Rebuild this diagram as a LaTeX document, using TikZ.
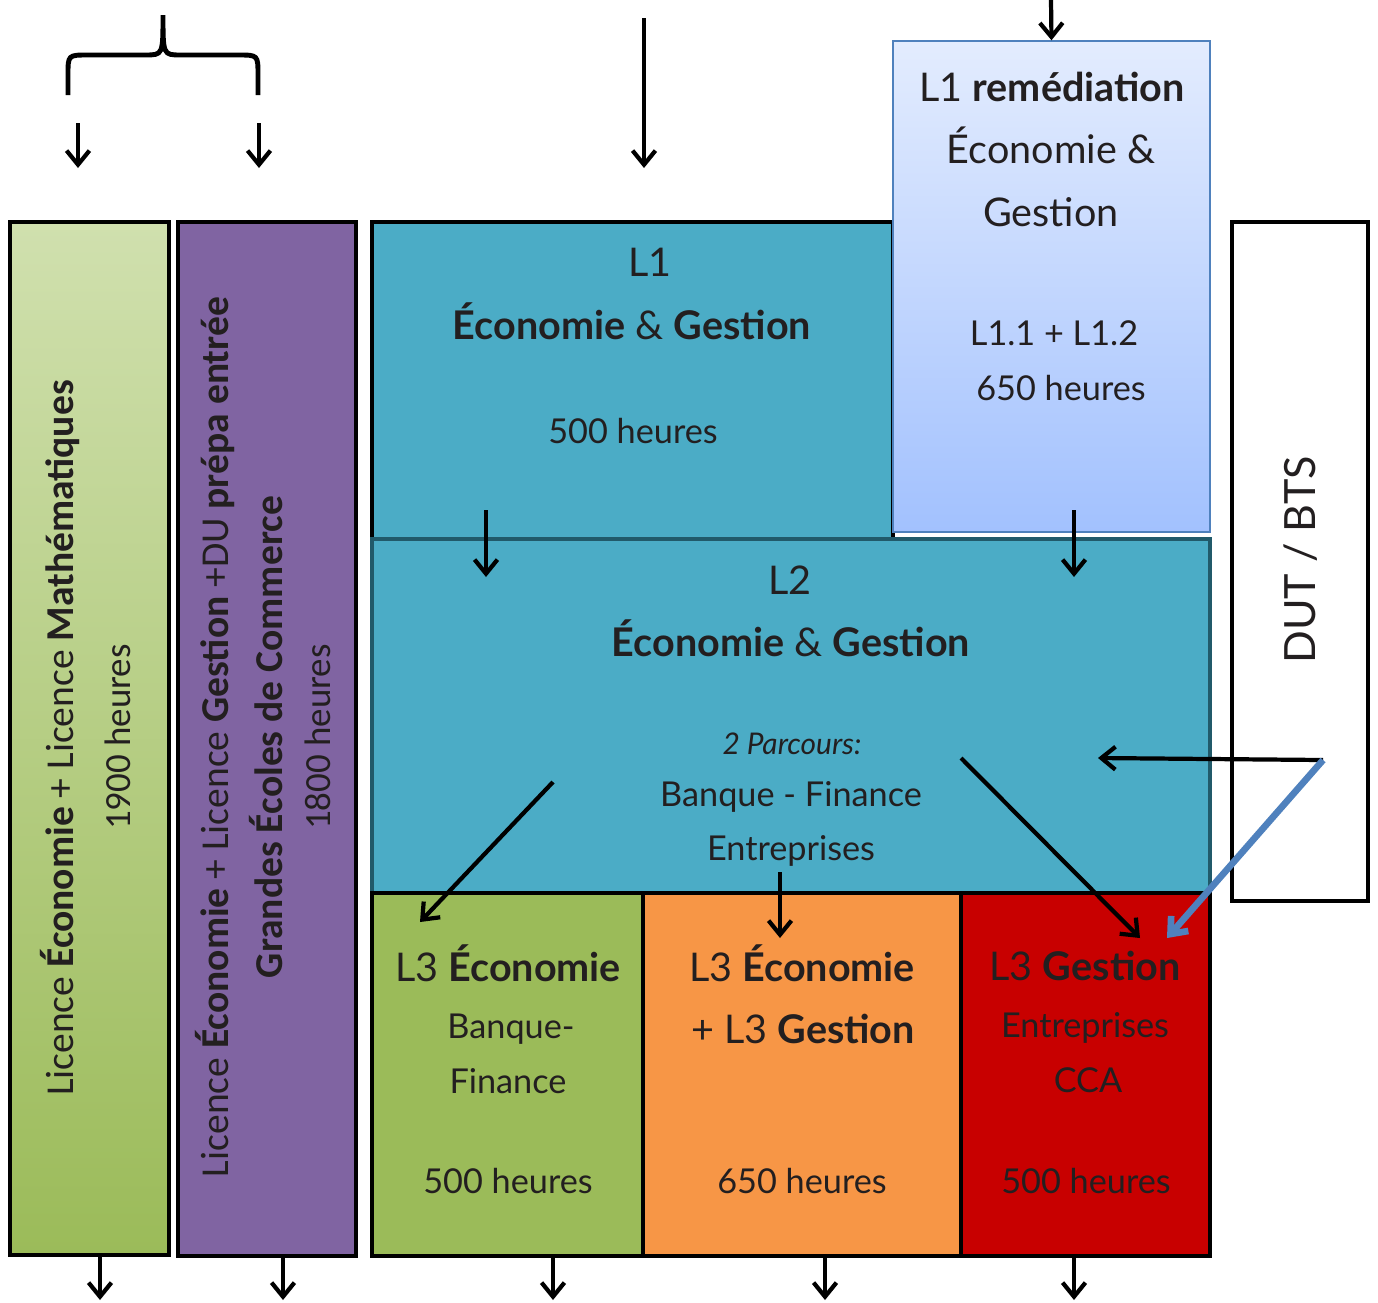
\documentclass[tikz,border=0pt]{standalone}
\usepackage{fontspec}
\setmainfont{Lato}
\newfontfamily\narrow{Carlito}
\usetikzlibrary{arrows.meta,fit}
\definecolor{ink}{HTML}{231F20}
\definecolor{greenlight}{HTML}{D0E0AE}
\definecolor{greendark}{HTML}{9BBB59}
\definecolor{violet}{HTML}{8064A2}
\definecolor{teal}{HTML}{4BACC6}
\definecolor{tealdark}{HTML}{215A6A}
\definecolor{bluelight}{HTML}{E3ECFE}
\definecolor{bluedark}{HTML}{A2C1FE}
\definecolor{blueline}{HTML}{4F81BD}
\definecolor{orange}{HTML}{F79646}
\definecolor{redbox}{HTML}{C80000}
\begin{document}
\begin{tikzpicture}[x=0.02cm,y=-0.02cm,
 box/.style={draw=black,line width=1.8pt,inner sep=0pt},
 arr/.style={line width=2.4pt,-{Straight Barb[length=8pt,width=13pt]}},
 lbl/.style={text=ink,inner sep=0pt,anchor=base,font=\fontsize{19.5}{22}\selectfont},
 ttl/.style={lbl,font=\fontsize{22.5}{26}\selectfont},
 vlbl/.style={text=ink,inner sep=0pt,anchor=base,rotate=90,font=\narrow\fontsize{22.5}{26}\selectfont}]
\useasboundingbox (0,0) rectangle (1378,1302);
% boxes
\node[box,fit={(10,222) (169,1255)},top color=greenlight,bottom color=greendark] (lmath){};
\node[box,fit={(178,222) (356,1256)},fill=violet] (lges){};
\node[box,fit={(372,222) (893,539)},fill=teal] (lone){};
\node[draw=blueline,line width=0.8pt,inner sep=0pt,fit={(893,41) (1210,532)},top color=bluelight,bottom color=bluedark] (lrem){};
\node[box,draw=tealdark,fit={(372,539) (1210,893)},fill=teal] (ltwo){};
\node[box,fit={(372,893) (643,1256)},fill=greendark] (leco){};
\node[box,fit={(643,893) (961,1256)},fill=orange] (lecoges){};
\node[box,fit={(961,893) (1210,1256)},fill=redbox] (lgestion){};
\node[box,line width=2.4pt,fit={(1232,222) (1368,901)},fill=white] (dut){};
% vertical texts
\node[vlbl] (mathtxt) at (73,738) {Licence \textbf{Économie} + Licence \textbf{Mathématiques}};
\node[vlbl,font=\narrow\fontsize{21}{24}\selectfont] (mathh) at (130,737) {1900 heures};
\node[vlbl] (gestxt) at (228,737) {Licence \textbf{Économie} + Licence \textbf{Gestion} +DU \textbf{prépa entrée}};
\node[vlbl] (gesecole) at (282,737) {\textbf{Grandes Écoles de Commerce}};
\node[vlbl,font=\narrow\fontsize{21}{24}\selectfont] (gesh) at (330,737) {1800 heures};
\node[text=ink,inner sep=0pt,anchor=base,rotate=90,font=\fontsize{24.5}{28}\selectfont] (duttxt) at (1315,560) {DUT / BTS};
% L1
\node[ttl] (onea) at (650,276) {L1};
\node[ttl] (oneb) at (632,339) {\textbf{Économie} \& \textbf{Gestion}};
\node[lbl] (onec) at (633,443) {500 heures};
\node[ttl] (rema) at (1052,101) {L1 \textbf{remédiation}};
\node[ttl] (remb) at (1051,163) {Économie \&};
\node[ttl] (remc) at (1051,226) {Gestion};
\node[lbl] (remd) at (1054,345) {L1.1 + L1.2};
\node[lbl] (reme) at (1061,400) {650 heures};
% L2
\node[ttl] (twoa) at (790,594) {L2};
\node[ttl] (twob) at (791,656) {\textbf{Économie} \& \textbf{Gestion}};
\node[lbl,font=\itshape\fontsize{17}{20}\selectfont] (twoc) at (792,754) {2 Parcours:};
\node[lbl] (twod) at (791,806) {Banque - Finance};
\node[lbl] (twoe) at (791,860) {Entreprises};
% L3
\node[ttl] (ecoa) at (508,981) {L3 \textbf{Économie}};
\node[lbl] (ecob) at (511,1038) {Banque-};
\node[lbl] (ecoc) at (508,1093) {Finance};
\node[lbl] (ecod) at (508,1193) {500 heures};
\node[ttl] (ega) at (802,981) {L3 \textbf{Économie}};
\node[ttl] (egb) at (803,1043) {+ L3 \textbf{Gestion}};
\node[lbl] (egc) at (802,1193) {650 heures};
\node[ttl] (gesa) at (1085,980) {L3 \textbf{Gestion}};
\node[lbl] (gesb) at (1085,1037) {Entreprises};
\node[lbl] (gesc) at (1088,1092) {CCA};
\node[lbl] (gesd) at (1086,1193) {500 heures};
% brace
\draw[line width=2.8pt] (68,95) -- (68,75) .. controls (68,55) .. (88,55) -- (145,55)
 .. controls (163,55) .. (163,15) .. controls (163,55) .. (181,55) -- (238,55)
 .. controls (258,55) .. (258,75) -- (258,95);
% arrows
\coordinate (ina1) at (78,123); \coordinate (inb1) at (78,168);
\coordinate (ina2) at (259,123); \coordinate (inb2) at (259,168);
\coordinate (ina3) at (644,18); \coordinate (inb3) at (644,168);
\coordinate (ina4) at (1051,0);
\coordinate (onedown) at (486,510); \coordinate (twoin) at (486,577);
\coordinate (remdown) at (1074,510); \coordinate (twoin2) at (1074,577);
\coordinate (toeco1) at (553,782); \coordinate (toeco2) at (420,922);
\coordinate (toeg1) at (780,872); \coordinate (toeg2) at (780,938);
\coordinate (toges1) at (961,758); \coordinate (toges2) at (1140,938);
\coordinate (dutout) at (1323,760); \coordinate (twoin3) at (1098,758);
\coordinate (gesin) at (1167,938);
\draw[arr] (ina1) -- (inb1);
\draw[arr] (ina2) -- (inb2);
\draw[arr] (ina3) -- (inb3);
\draw[arr] (ina4) -- (lrem.north);
\draw[arr] (onedown) -- (twoin);
\draw[arr] (remdown) -- (twoin2);
\draw[arr] (toeco1) -- (toeco2);
\draw[arr] (toeg1) -- (toeg2);
\draw[arr] (toges1) -- (toges2);
\draw[arr] (dutout) -- (twoin3);
\draw[arr,blueline,line width=3.8pt] (dutout) -- (gesin);
\foreach \n/\x in {lmath/100,lges/283,leco/553,lecoges/825,lgestion/1074}
 \draw[arr] (\x,1256) coordinate (\n out) -- (\x,1300) coordinate (\n end);
\end{tikzpicture}
\end{document}
